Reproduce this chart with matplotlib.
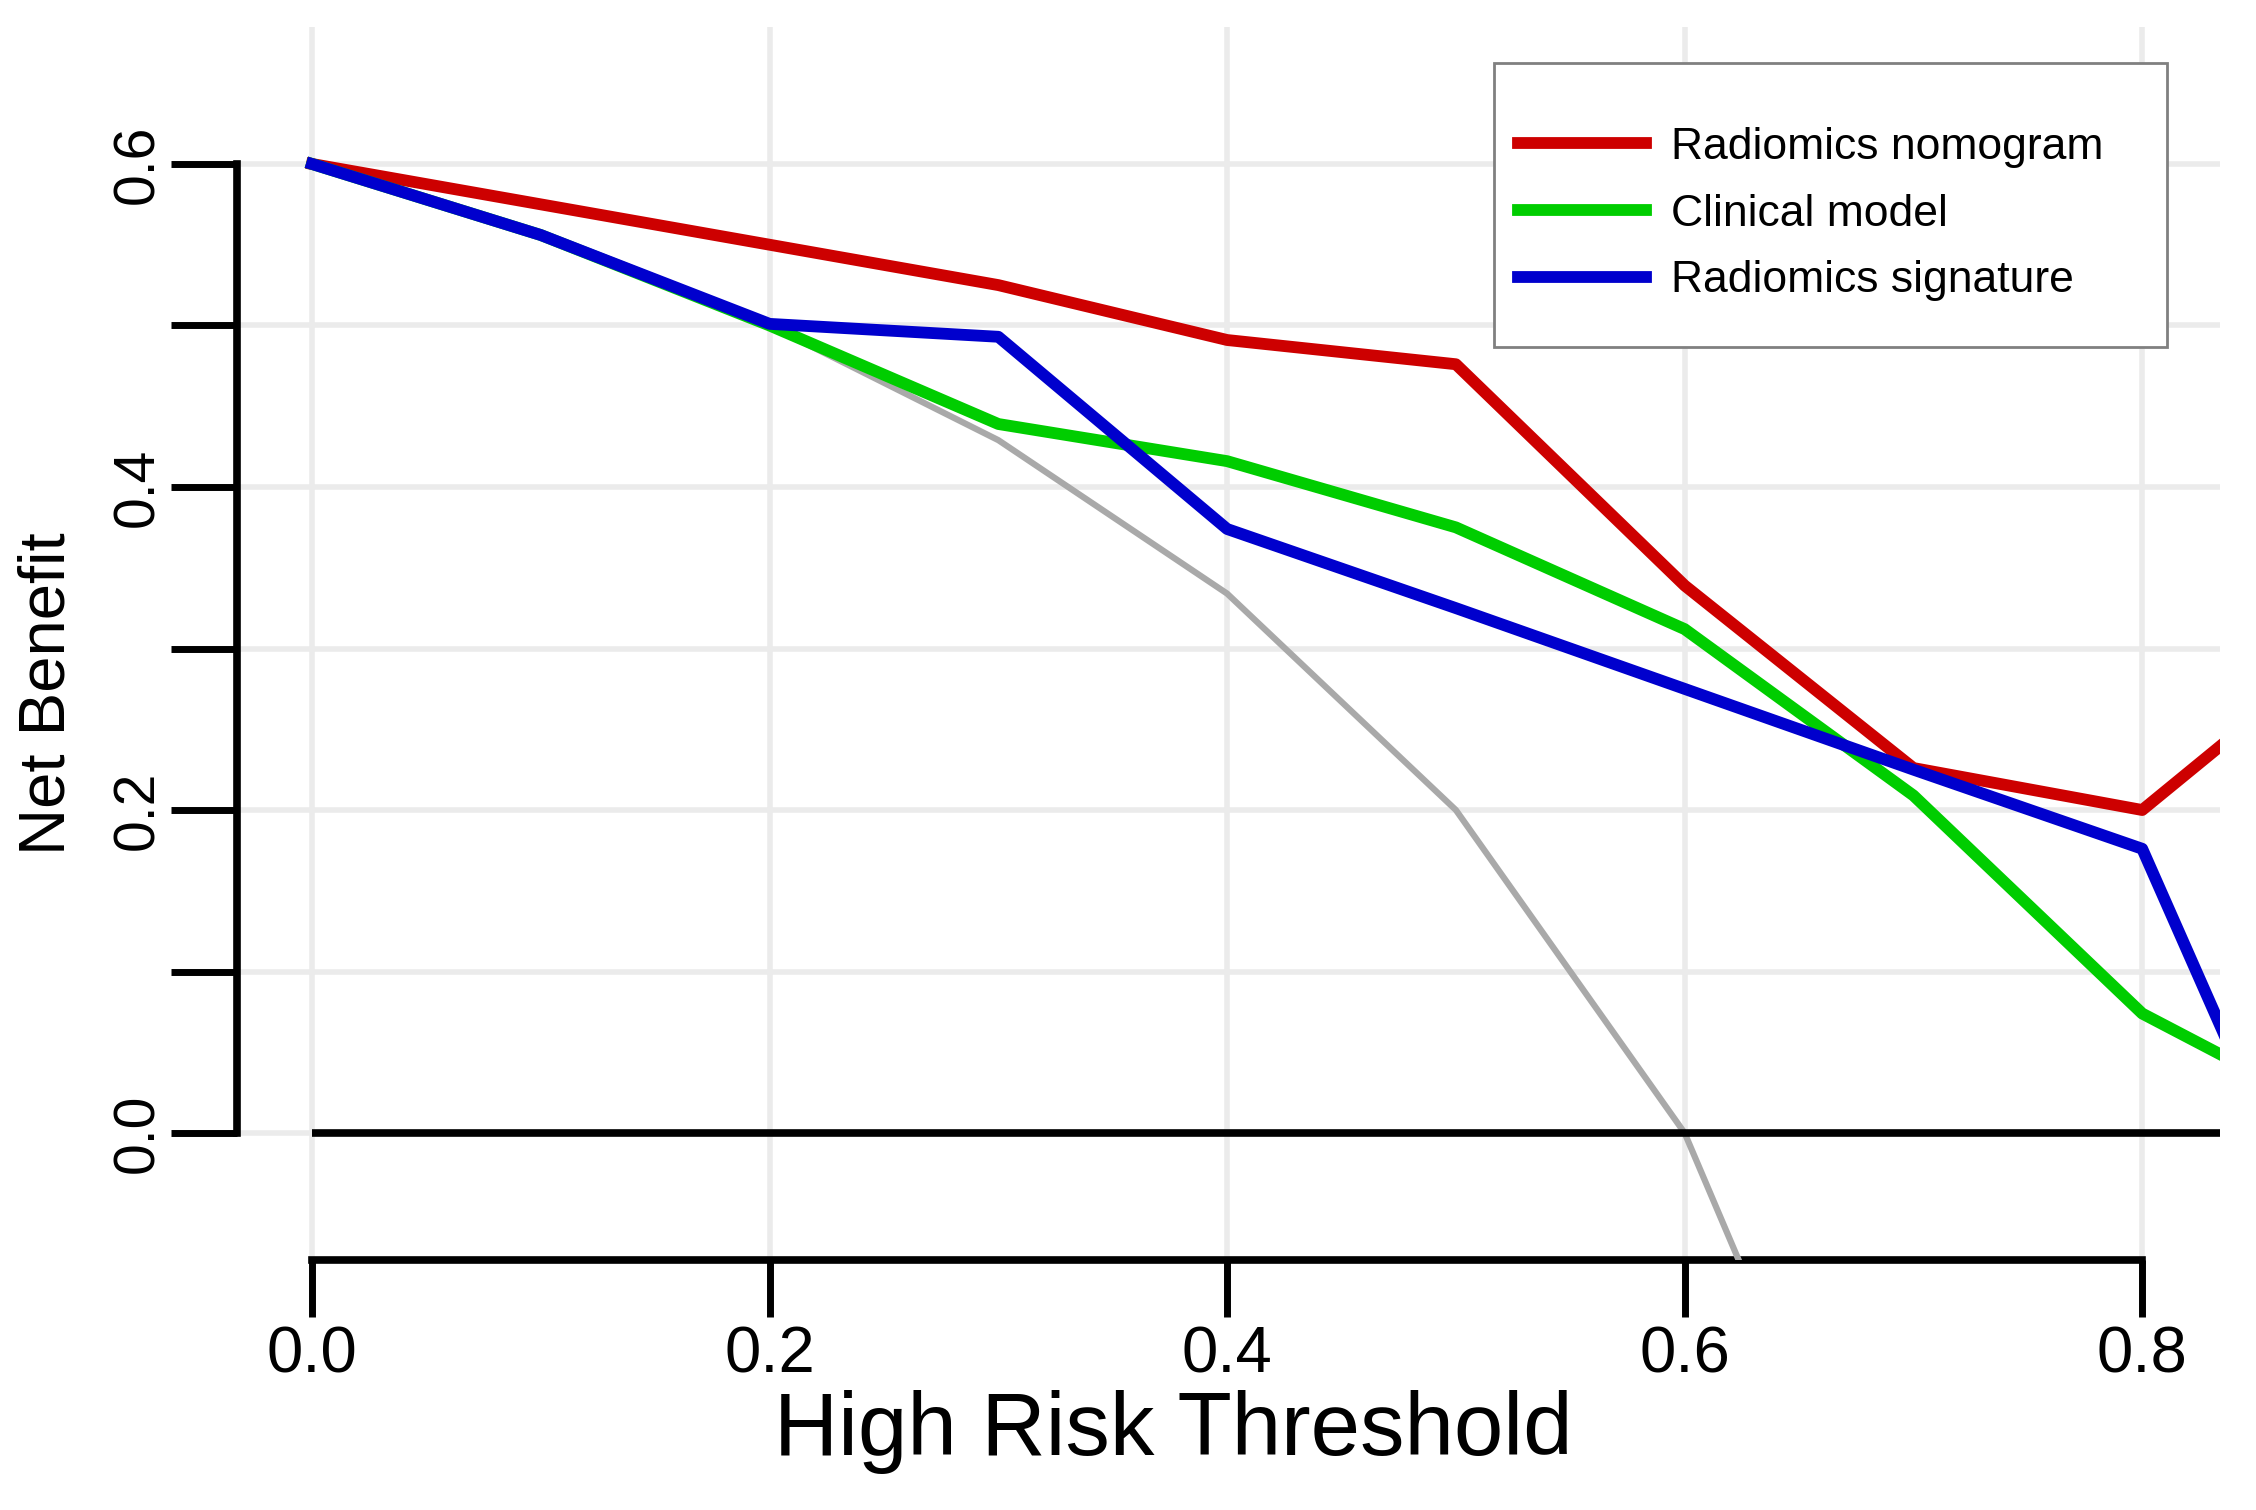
import matplotlib
matplotlib.use("Agg")
import matplotlib.pyplot as plt
from matplotlib import font_manager
from matplotlib.patches import Rectangle

# values
thresholds = [0.0, 0.1, 0.2, 0.3, 0.4, 0.5, 0.6, 0.7, 0.8, 0.9]
nomogram = [0.600, 0.575, 0.550, 0.525, 0.491, 0.476, 0.339, 0.226, 0.200, 0.316]
clinical = [0.600, 0.556, 0.500, 0.439, 0.416, 0.375, 0.312, 0.209, 0.074, 0.000]
signature = [0.600, 0.556, 0.501, 0.493, 0.374, 0.325, 0.275, 0.225, 0.176, -0.145]
treat_all = [0.600, 0.556, 0.500, 0.429, 0.334, 0.200, 0.000, -0.333, -1.000, -3.000]
treat_none = [0, 0, 0, 0, 0, 0, 0, 0, 0, 0]

series_names = ["Radiomics nomogram", "Clinical model", "Radiomics signature"]
series_colors = ["#CD0000", "#00CD00", "#0000CD"]

x_ticks = [0.0, 0.2, 0.4, 0.6, 0.8]
x_labels = ["0.0", "0.2", "0.4", "0.6", "0.8"]
y_ticks = [0.0, 0.1, 0.2, 0.3, 0.4, 0.5, 0.6]
y_labels = ["0.0", "", "0.2", "", "0.4", "", "0.6"]

names = {f.name for f in font_manager.fontManager.ttflist}
main_font = "Liberation Sans" if "Liberation Sans" in names else "DejaVu Sans"
if "Liberation Sans Narrow" in names:
    legend_font, legend_size = "Liberation Sans Narrow", 40
else:
    legend_font, legend_size = main_font, 32
plt.rcParams["font.family"] = [main_font, "DejaVu Sans"]

W, H = 2256, 1510
fig = plt.figure(figsize=(W / 100, H / 100), dpi=100)
ax = fig.add_axes([236.5 / W, 1 - 1260 / H, (2220 - 236.5) / W, (1260 - 27) / H])

ax.set_xlim(-0.033, 0.834)
ax.set_ylim(-0.0786, 0.6848)

ax.plot(thresholds, treat_all, color="#A9A9A9", lw=4.5, zorder=3)
ax.plot(thresholds, treat_none, color="black", lw=5.5, zorder=3, solid_capstyle="butt")
for vals, name, col in zip([nomogram, clinical, signature], series_names, series_colors):
    ax.plot(thresholds, vals, color=col, lw=8.5, label=name, zorder=4)

ax.set_xticks(x_ticks)
ax.set_xticklabels(x_labels, fontsize=47)
ax.set_yticks(y_ticks)
ax.set_yticklabels(y_labels, fontsize=41, rotation=90, va="center")
ax.tick_params(axis="x", direction="out", length=41, width=5, pad=6)
ax.tick_params(axis="y", direction="out", length=47.5, width=5, pad=4)

ax.grid(True, color="#EBEBEB", lw=4.0, zorder=0)
ax.set_axisbelow(True)

for side in ["top", "right"]:
    ax.spines[side].set_visible(False)
for side in ["left", "bottom"]:
    ax.spines[side].set_linewidth(5.5)
    ax.spines[side].set_capstyle("projecting")
ax.spines["bottom"].set_bounds(0.0, 0.8)
ax.spines["left"].set_bounds(0.0, 0.6)

ax.set_xlabel("High Risk Threshold", fontsize=64, va="center")
ax.xaxis.set_label_coords(0.4724, -0.1395)
ax.set_ylabel("Net Benefit", fontsize=47, va="center")
ax.yaxis.set_label_coords(-0.0953, 0.459)

# legend box sits in the top right corner
ax.add_patch(Rectangle((1494 / W, 1 - 347 / H), (2167 - 1494) / W, (347 - 62.7) / H,
                       transform=fig.transFigure, facecolor="white",
                       edgecolor="#808080", lw=2.0, zorder=5, clip_on=False))
leg = ax.legend(loc="center left", bbox_to_anchor=(1517.6 / W, 1 - 214 / H),
                bbox_transform=fig.transFigure, frameon=False, borderpad=0,
                borderaxespad=0, handlelength=2.9, handletextpad=0.55,
                labelspacing=0.58, prop={"family": legend_font, "size": legend_size})
leg.set_zorder(6)

fig.savefig("out.png", dpi=100)
